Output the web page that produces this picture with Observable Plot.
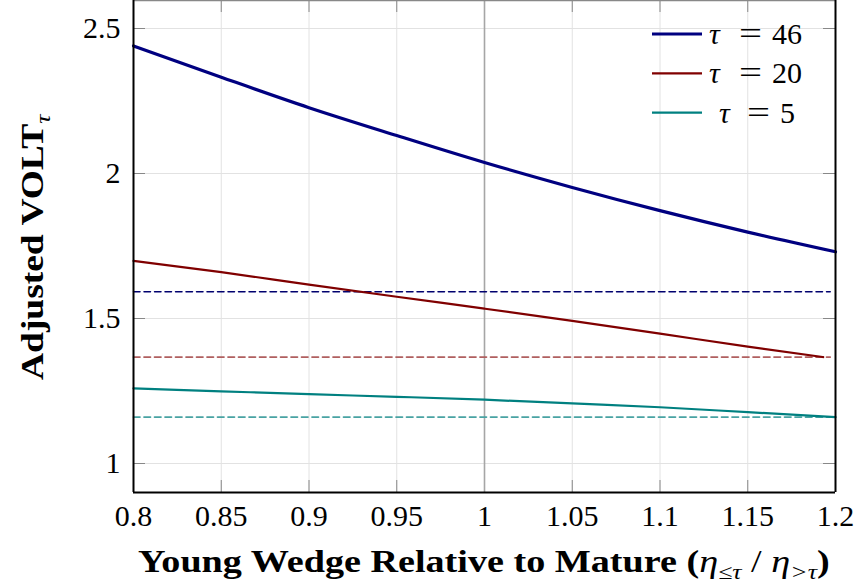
<!DOCTYPE html>
<html><head><meta charset="utf-8">
<script src="https://cdn.jsdelivr.net/npm/d3@7"></script>
<script src="https://cdn.jsdelivr.net/npm/@observablehq/plot@0.6"></script>
<style>body{margin:0;background:#fff} svg{display:block}</style>
</head><body><div id="chart"></div>
<script>
// ---- data ----
const xTicks = [0.8, 0.85, 0.9, 0.95, 1, 1.05, 1.1, 1.15, 1.2];
const xTickLabels = ["0.8", "0.85", "0.9", "0.95", "1", "1.05", "1.1", "1.15", "1.2"];
const yTicks = [1, 1.5, 2, 2.5];
const yTickLabels = ["1", "1.5", "2", "2.5"];

const seriesNames = ["τ = 46", "τ = 20", "τ = 5"];
const seriesTau = ["46", "20", "5"];

const x46 = [0.8, 0.85, 0.9, 0.95, 1.0, 1.05, 1.1, 1.15, 1.2];
const v46 = [2.440, 2.332, 2.227, 2.131, 2.038, 1.952, 1.872, 1.798, 1.730];

const x20 = [0.8, 0.85, 0.9, 0.95, 1.0, 1.05, 1.1, 1.15, 1.193];
const v20 = [1.699, 1.660, 1.617, 1.575, 1.534, 1.492, 1.448, 1.403, 1.367];

const x5 = [0.8, 0.85, 0.9, 0.95, 1.0, 1.05, 1.1, 1.15, 1.2];
const v5 = [1.259, 1.249, 1.239, 1.230, 1.220, 1.207, 1.194, 1.177, 1.160];

const limitValues = [1.592, 1.367, 1.160];
const limitXRange = [0.8, 1.197];
const referenceX = [1];

// ---- styles ----
const colors = ["#000080", "#800000", "#008080"];
const dashColors = ["#00006e", "#b05f5f", "#48a3a3"];
const widths = [3.2, 2.2, 2.2];
const dashWidths = [1.5, 1.7, 1.7];
const FONT = "'Liberation Serif', 'DejaVu Serif', serif";

const W = 857, H = 588;
const mL = 133, mR = 22, mT = 0, mB = 96;
const plotW = W - mL - mR, plotH = H - mT - mB;
const yDomain = [0.9, 2.5966];

const rows = (xs, vs) => xs.map((x, i) => ({x, y: vs[i]}));
const lineData = [rows(x46, v46), rows(x20, v20), rows(x5, v5)];
const limitData = limitValues.map(v => limitXRange.map(x => ({x, y: v})));

const marks = [
  Plot.gridX(xTicks, {stroke: "#e2e2e2", strokeOpacity: 1, strokeWidth: 1}),
  Plot.gridY(yTicks, {stroke: "#e2e2e2", strokeOpacity: 1, strokeWidth: 1}),
  Plot.ruleX(xTicks, {stroke: "#888", strokeWidth: 1, insetTop: plotH - 12}),
  Plot.ruleX(xTicks, {stroke: "#888", strokeWidth: 1, insetBottom: plotH - 12}),
  Plot.ruleY(yTicks, {stroke: "#888", strokeWidth: 1, insetRight: plotW - 12}),
  Plot.ruleY(yTicks, {stroke: "#888", strokeWidth: 1, insetLeft: plotW - 12}),
  Plot.ruleX(referenceX, {stroke: "#a6a6a6", strokeWidth: 1.6}),
  ...limitData.map((d, i) => Plot.line(d, {x: "x", y: "y", stroke: dashColors[i], strokeWidth: dashWidths[i], strokeDasharray: "6.5,4"})),
  ...lineData.map((d, i) => Plot.line(d, {x: "x", y: "y", stroke: colors[i], strokeWidth: widths[i], curve: "monotone-x"})),
  Plot.ruleY([yDomain[1]], {stroke: "#888", strokeWidth: 1.5}),
  Plot.ruleY([yDomain[0]], {stroke: "black", strokeWidth: 2}),
  Plot.ruleX([0.8, 1.2], {stroke: "black", strokeWidth: 2}),
  Plot.axisX(xTicks, {tickSize: 0, tickPadding: 12, tickFormat: d => xTickLabels[xTicks.indexOf(d)], label: null}),
  Plot.axisY(yTicks, {tickSize: 0, tickPadding: 13, tickFormat: d => yTickLabels[yTicks.indexOf(d)], label: null})
];

const chart = Plot.plot({
  width: W, height: H,
  marginLeft: mL, marginRight: mR, marginTop: mT, marginBottom: mB,
  x: {domain: [0.8, 1.2]},
  y: {domain: yDomain},
  style: {fontFamily: FONT, fontSize: "30px", color: "black", background: "white"},
  marks
});
document.getElementById("chart").appendChild(chart);

const svg = d3.select(chart);

// x-axis title
const xt = svg.append("text")
  .attr("x", 138).attr("y", 572).attr("text-anchor", "start")
  .attr("font-family", FONT).attr("font-size", 31).attr("fill", "black");
xt.append("tspan").attr("font-weight", "bold").text("Young Wedge Relative to Mature (");
xt.append("tspan").attr("font-style", "italic").text("η");
xt.append("tspan").attr("font-style", "italic").attr("font-size", 21).attr("dy", 7).text("≤τ");
xt.append("tspan").attr("dy", -7).text(" / ");
xt.append("tspan").attr("font-style", "italic").text("η");
xt.append("tspan").attr("font-style", "italic").attr("font-size", 21).attr("dy", 7).text(">τ");
xt.append("tspan").attr("font-weight", "bold").attr("dy", -7).text(")");
{
  const w = xt.node().getBBox().width;
  const s = 692 / w;
  xt.attr("transform", `translate(138,0) scale(${s},1) translate(-138,0)`);
}

// y-axis title
const yt = svg.append("text")
  .attr("x", 0).attr("y", 0).attr("text-anchor", "start")
  .attr("font-family", FONT).attr("font-size", 32).attr("fill", "black")
  .attr("transform", "translate(43,380) rotate(-90)");
yt.append("tspan").attr("font-weight", "bold").text("Adjusted VOLT");
yt.append("tspan").attr("font-style", "italic").attr("font-size", 22).attr("dy", 7).text("τ");
{
  const w = yt.node().getBBox().width;
  const s = 267 / w;
  yt.attr("transform", `translate(43,380) rotate(-90) scale(${s},1)`);
}

// legend
const legY = [34, 73.3, 112.7];
const legTauX = [709, 709, 719];
const legEqX = [739, 739, 747];
const legNumX = [772, 772, 780];
seriesNames.forEach((name, i) => {
  svg.append("line").attr("x1", 652).attr("x2", 702).attr("y1", legY[i]).attr("y2", legY[i])
    .attr("stroke", colors[i]).attr("stroke-width", widths[i]);
  const base = legY[i] + 10;
  svg.append("text").attr("x", legTauX[i]).attr("y", base).attr("text-anchor", "start")
    .attr("font-family", FONT).attr("font-size", 30).attr("font-style", "italic").attr("fill", "black").text("τ");
  svg.append("text").attr("x", legEqX[i]).attr("y", base).attr("text-anchor", "start")
    .attr("font-family", FONT).attr("font-size", 32).attr("fill", "black")
    .attr("textLength", 23).attr("lengthAdjust", "spacingAndGlyphs").text("=");
  svg.append("text").attr("x", legNumX[i]).attr("y", base).attr("text-anchor", "start")
    .attr("font-family", FONT).attr("font-size", 30).attr("fill", "black").text(seriesTau[i]);
});
</script>
</body></html>
